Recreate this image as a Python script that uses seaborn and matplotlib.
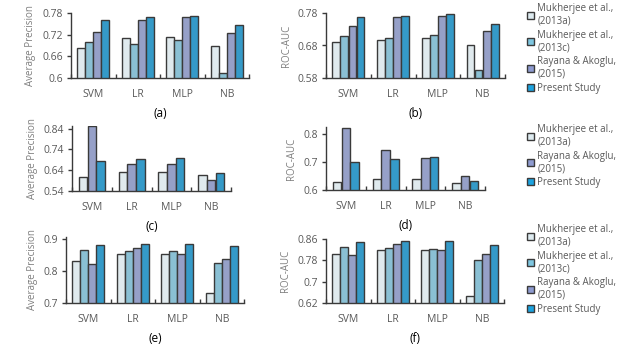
import matplotlib
matplotlib.use('Agg')
import matplotlib.pyplot as plt
from matplotlib.patches import Patch
import pandas as pd
import seaborn as sns

#%% data
models = ['SVM', 'LR', 'MLP', 'NB']
methods = ['Mukherjee et al.,\n(2013a)', 'Mukherjee et al.,\n(2013c)',
           'Rayana & Akoglu,\n(2015)', 'Present Study']

# (a) average precision, dataset 1
ap1_m13a = [0.682, 0.710, 0.713, 0.689]
ap1_m13c = [0.700, 0.695, 0.704, 0.614]
ap1_ra15 = [0.728, 0.761, 0.768, 0.725]
ap1_ours = [0.761, 0.768, 0.773, 0.747]

# (b) roc-auc, dataset 1
auc1_m13a = [0.691, 0.697, 0.702, 0.682]
auc1_m13c = [0.710, 0.704, 0.713, 0.604]
auc1_ra15 = [0.741, 0.767, 0.771, 0.725]
auc1_ours = [0.767, 0.771, 0.776, 0.745]

# (c) average precision, dataset 2 (no 2013c)
ap2_m13a = [0.607, 0.630, 0.630, 0.617]
ap2_ra15 = [0.850, 0.671, 0.669, 0.593]
ap2_ours = [0.682, 0.692, 0.698, 0.628]

# (d) roc-auc, dataset 2 (no 2013c)
auc2_m13a = [0.627, 0.639, 0.639, 0.624]
auc2_ra15 = [0.822, 0.743, 0.713, 0.651]
auc2_ours = [0.701, 0.710, 0.718, 0.632]

# (e) average precision, dataset 3
ap3_m13a = [0.830, 0.851, 0.853, 0.731]
ap3_m13c = [0.864, 0.861, 0.860, 0.825]
ap3_ra15 = [0.820, 0.872, 0.851, 0.838]
ap3_ours = [0.880, 0.884, 0.884, 0.877]

# (f) roc-auc, dataset 3
auc3_m13a = [0.805, 0.818, 0.818, 0.648]
auc3_m13c = [0.830, 0.826, 0.824, 0.783]
auc3_ra15 = [0.799, 0.840, 0.819, 0.805]
auc3_ours = [0.848, 0.853, 0.851, 0.838]

colors = ['#deebf0', '#7ec6e0', '#8e9bd0', '#1ca3e0']
color_dict = dict(zip(methods, colors))

#%% style
sns.set_style('white')
plt.rcParams['font.family'] = ['Open Sans', 'DejaVu Sans']
grey = '#595959'
edge = '#3a3a3a'

fig = plt.figure(figsize=(6.3, 3.51), dpi=100)
W, H = 630, 351


def px_axes(x0, x1, y0, y1):
    # axes from pixel box (top-left origin)
    return fig.add_axes([x0 / W, 1 - y1 / H, (x1 - x0) / W, (y1 - y0) / H])


def panel(ax, series, names, ylim, yticks, ylabel, tag, width):
    rows = []
    for vals, name in zip(series, names):
        for m, v in zip(models, vals):
            rows.append({'model': m, 'value': v, 'method': name})
    df = pd.DataFrame(rows)
    sns.barplot(data=df, x='model', y='value', hue='method', hue_order=names,
                order=models, palette=color_dict, width=width, gap=0.04,
                edgecolor=edge, linewidth=1.0, ax=ax, legend=False,
                errorbar=None)
    ax.set_ylim(*ylim)
    ax.set_xlim(-0.5, 3.5)
    ax.set_yticks(yticks)
    ax.set_yticklabels([('%g' % t) for t in yticks])
    ax.set_xticks([-0.5, 0.5, 1.5, 2.5, 3.5], minor=True)
    ax.tick_params(axis='x', which='major', length=0, labelsize=7.5,
                   labelcolor=grey, pad=8)
    ax.tick_params(axis='x', which='minor', direction='in', length=3,
                   width=1, color=edge, bottom=True)
    ax.tick_params(axis='y', which='major', direction='out', length=3,
                   width=1, color=edge, left=True, labelsize=7.5,
                   labelcolor=grey, pad=3)
    for s in ['top', 'right']:
        ax.spines[s].set_visible(False)
    for s in ['left', 'bottom']:
        ax.spines[s].set_color(edge)
        ax.spines[s].set_linewidth(1)
    ax.set_ylabel(ylabel, fontsize=7, color='#7f7f7f', labelpad=4)
    ax.set_xlabel(tag, fontsize=8.5, color='black', labelpad=5)


def add_legend(names, x, y):
    handles = [Patch(facecolor=color_dict[n], edgecolor=edge, linewidth=1)
               for n in names]
    fig.legend(handles, names, loc='upper left',
               bbox_to_anchor=(x / W, 1 - y / H), frameon=False,
               fontsize=7, labelcolor=grey, handlelength=0.75,
               handleheight=0.75, handletextpad=0.3, labelspacing=0.3,
               borderaxespad=0, borderpad=0)


all4 = methods
three = [methods[0], methods[2], methods[3]]

ax1 = px_axes(71, 249, 13, 78)
panel(ax1, [ap1_m13a, ap1_m13c, ap1_ra15, ap1_ours], all4,
      (0.6, 0.78), [0.6, 0.66, 0.72, 0.78], 'Average Precision', '(a)', 0.72)

ax2 = px_axes(326, 505, 13, 78)
panel(ax2, [auc1_m13a, auc1_m13c, auc1_ra15, auc1_ours], all4,
      (0.58, 0.78), [0.58, 0.68, 0.78], 'ROC-AUC', '(b)', 0.72)

ax3 = px_axes(72, 231, 126, 191)
panel(ax3, [ap2_m13a, ap2_ra15, ap2_ours], three,
      (0.54, 0.852), [0.54, 0.64, 0.74, 0.84], 'Average Precision', '(c)', 0.66)

ax4 = px_axes(326, 485, 127, 190)
panel(ax4, [auc2_m13a, auc2_ra15, auc2_ours], three,
      (0.6, 0.826), [0.6, 0.7, 0.8], 'ROC-AUC', '(d)', 0.66)

ax5 = px_axes(66, 244, 237, 303)
panel(ax5, [ap3_m13a, ap3_m13c, ap3_ra15, ap3_ours], all4,
      (0.7, 0.905), [0.7, 0.8, 0.9], 'Average Precision', '(e)', 0.72)

ax6 = px_axes(326, 504, 239, 303)
panel(ax6, [auc3_m13a, auc3_m13c, auc3_ra15, auc3_ours], all4,
      (0.62, 0.86), [0.62, 0.7, 0.78, 0.86], 'ROC-AUC', '(f)', 0.72)

add_legend(all4, 527, 3)
add_legend(three, 527, 124)
add_legend(all4, 527, 224)

plt.savefig('out.png', dpi=100)
